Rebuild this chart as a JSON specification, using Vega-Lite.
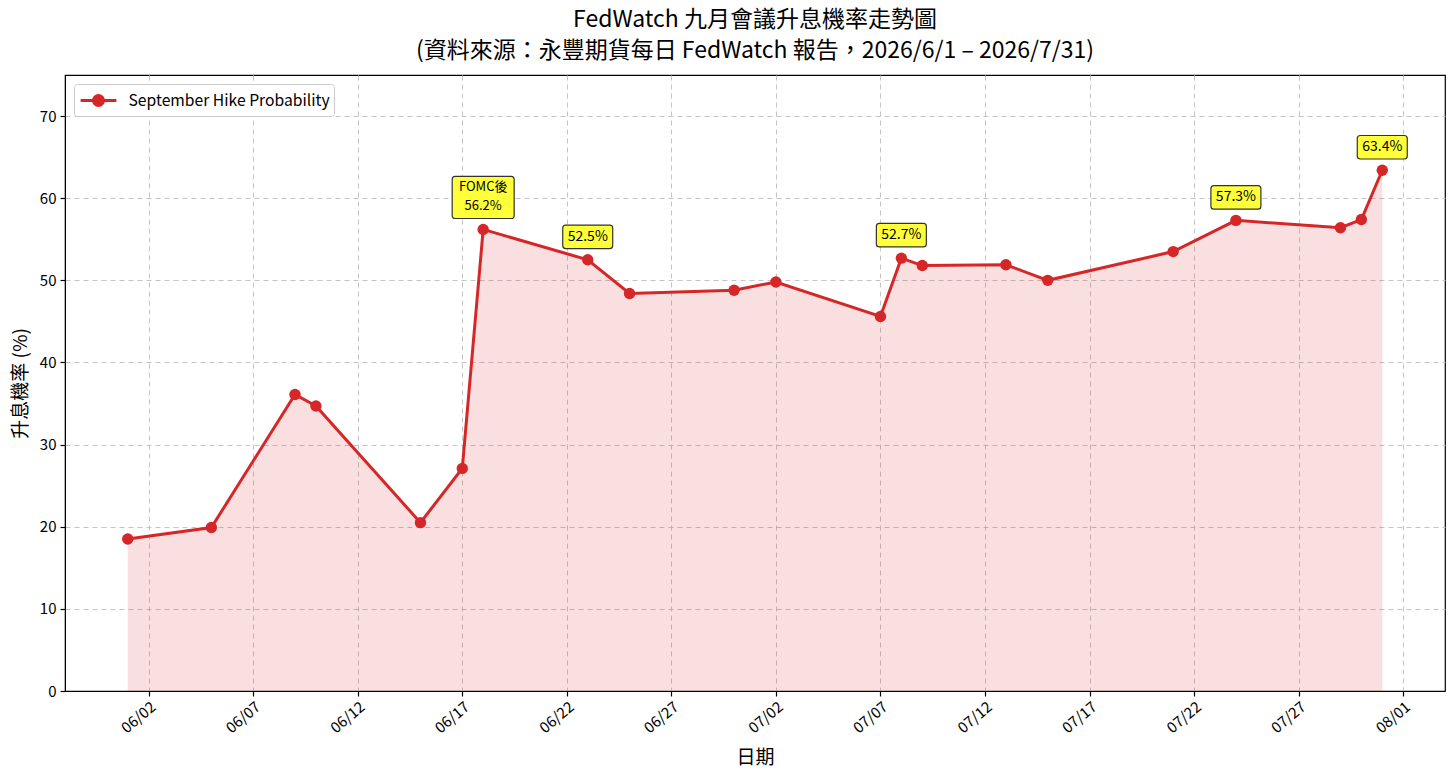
{
  "$schema": "https://vega.github.io/schema/vega-lite/v6.json",
  "autosize": {"type": "none"},
  "width": 1380,
  "height": 616,
  "padding": {"left": 65, "top": 75, "right": 11, "bottom": 87},
  "background": "white",
  "title": {
    "text": ["FedWatch 九月會議升息機率走勢圖", "(資料來源：永豐期貨每日 FedWatch 報告，2026/6/1 – 2026/7/31)"],
    "font": "Noto Sans CJK TC",
    "fontSize": 23,
    "fontWeight": "normal",
    "color": "#000000",
    "lineHeight": 31,
    "anchor": "middle",
    "offset": 12
  },
  "config": {
    "font": "Noto Sans CJK TC",
    "view": {"stroke": "#000000", "strokeWidth": 1.2},
    "axis": {
      "labelFont": "Noto Sans CJK TC",
      "titleFont": "Noto Sans CJK TC",
      "labelFontSize": 15,
      "titleFontSize": 19,
      "titleFontWeight": "normal",
      "labelColor": "#000000",
      "titleColor": "#000000",
      "domainColor": "#000000",
      "tickColor": "#000000",
      "tickSize": 5,
      "tickWidth": 1.2,
      "gridColor": "#c4c4c4",
      "gridDash": [5, 4],
      "gridWidth": 1
    }
  },
  "data": {
    "values": [
      {"date": "2026-06-01", "prob": 18.5, "label": null},
      {"date": "2026-06-05", "prob": 19.9, "label": null},
      {"date": "2026-06-09", "prob": 36.1, "label": null},
      {"date": "2026-06-10", "prob": 34.7, "label": null},
      {"date": "2026-06-15", "prob": 20.5, "label": null},
      {"date": "2026-06-17", "prob": 27.1, "label": null},
      {"date": "2026-06-18", "prob": 56.2, "label": "FOMC後\n56.2%"},
      {"date": "2026-06-23", "prob": 52.5, "label": "52.5%"},
      {"date": "2026-06-25", "prob": 48.4, "label": null},
      {"date": "2026-06-30", "prob": 48.8, "label": null},
      {"date": "2026-07-02", "prob": 49.8, "label": null},
      {"date": "2026-07-07", "prob": 45.6, "label": null},
      {"date": "2026-07-08", "prob": 52.7, "label": "52.7%"},
      {"date": "2026-07-09", "prob": 51.8, "label": null},
      {"date": "2026-07-13", "prob": 51.9, "label": null},
      {"date": "2026-07-15", "prob": 50.0, "label": null},
      {"date": "2026-07-21", "prob": 53.5, "label": null},
      {"date": "2026-07-24", "prob": 57.3, "label": "57.3%"},
      {"date": "2026-07-29", "prob": 56.4, "label": null},
      {"date": "2026-07-30", "prob": 57.4, "label": null},
      {"date": "2026-07-31", "prob": 63.4, "label": "63.4%"}
    ]
  },
  "encoding": {
    "x": {
      "field": "date",
      "type": "temporal",
      "scale": {"type": "utc", "domain": [{"year": 2026, "month": 5, "date": 29, "utc": true}, {"year": 2026, "month": 8, "date": 3, "utc": true}]},
      "axis": {
        "title": "日期",
        "labelExpr": "utcFormat(datum.value, '%m/%d')",
        "values": [
          {"year": 2026, "month": 6, "date": 2, "utc": true},
          {"year": 2026, "month": 6, "date": 7, "utc": true},
          {"year": 2026, "month": 6, "date": 12, "utc": true},
          {"year": 2026, "month": 6, "date": 17, "utc": true},
          {"year": 2026, "month": 6, "date": 22, "utc": true},
          {"year": 2026, "month": 6, "date": 27, "utc": true},
          {"year": 2026, "month": 7, "date": 2, "utc": true},
          {"year": 2026, "month": 7, "date": 7, "utc": true},
          {"year": 2026, "month": 7, "date": 12, "utc": true},
          {"year": 2026, "month": 7, "date": 17, "utc": true},
          {"year": 2026, "month": 7, "date": 22, "utc": true},
          {"year": 2026, "month": 7, "date": 27, "utc": true},
          {"year": 2026, "month": 8, "date": 1, "utc": true}
        ],
        "labelAngle": -40,
        "labelAlign": "right",
        "labelBaseline": "top",
        "labelPadding": 3,
        "titlePadding": 13
      }
    },
    "y": {
      "field": "prob",
      "type": "quantitative",
      "scale": {"domain": [0, 75], "nice": false},
      "axis": {
        "title": "升息機率 (%)",
        "values": [0, 10, 20, 30, 40, 50, 60, 70],
        "labelPadding": 4,
        "titlePadding": 9
      }
    }
  },
  "layer": [
    {
      "mark": {"type": "area", "color": "#d62728", "opacity": 0.15}
    },
    {
      "mark": {"type": "line", "strokeWidth": 3, "point": {"filled": true, "size": 130}},
      "encoding": {
        "color": {
          "datum": "September Hike Probability",
          "scale": {"range": ["#d62728"]},
          "legend": {
            "title": null,
            "orient": "top-left",
            "offset": 8.5,
            "labelFontSize": 15.7,
            "labelFont": "Noto Sans CJK TC",
            "labelColor": "#000000",
            "labelLimit": 500,
            "labelOffset": 17,
            "symbolOffset": 8,
            "symbolType": "M-1.6,0 L1.6,0 M-0.45,0 A0.45,0.45 0 1,1 0.45,0 A0.45,0.45 0 1,1 -0.45,0 Z",
            "symbolSize": 500,
            "symbolStrokeWidth": 3,
            "symbolFillColor": "#d62728",
            "symbolStrokeColor": "#d62728",
            "fillColor": "white",
            "strokeColor": "#cccccc",
            "cornerRadius": 3,
            "padding": 3.5
          }
        }
      }
    },
    {
      "transform": [{"filter": "datum.label != null && indexof(datum.label, '\\n') < 0"}],
      "mark": {
        "type": "point",
        "shape": "M-0.88,-0.47 L0.88,-0.47 Q1,-0.47 1,-0.35 L1,0.35 Q1,0.47 0.88,0.47 L-0.88,0.47 Q-1,0.47 -1,0.35 L-1,-0.35 Q-1,-0.47 -0.88,-0.47 Z",
        "size": 2500,
        "filled": true,
        "fill": "#ffff3a",
        "stroke": "#333333",
        "strokeWidth": 1.2,
        "opacity": 1,
        "yOffset": -23
      }
    },
    {
      "transform": [{"filter": "datum.label != null && indexof(datum.label, '\\n') >= 0"}],
      "mark": {
        "type": "point",
        "shape": "M-0.9,-0.68 L0.9,-0.68 Q1,-0.68 1,-0.58 L1,0.58 Q1,0.68 0.9,0.68 L-0.9,0.68 Q-1,0.68 -1,0.58 L-1,-0.58 Q-1,-0.68 -0.9,-0.68 Z",
        "size": 3844,
        "filled": true,
        "fill": "#ffff3a",
        "stroke": "#333333",
        "strokeWidth": 1.2,
        "opacity": 1,
        "yOffset": -32
      }
    },
    {
      "transform": [{"filter": "datum.label != null && indexof(datum.label, '\\n') < 0"}],
      "mark": {
        "type": "text",
        "font": "Noto Sans CJK TC",
        "fontSize": 14,
        "color": "#000000",
        "baseline": "middle",
        "align": "center",
        "yOffset": -23
      },
      "encoding": {"text": {"field": "label"}}
    },
    {
      "transform": [{"filter": "datum.label != null && indexof(datum.label, '\\n') >= 0"}],
      "mark": {
        "type": "text",
        "font": "Noto Sans CJK TC",
        "fontSize": 13,
        "color": "#000000",
        "baseline": "top",
        "align": "center",
        "lineBreak": "\n",
        "lineHeight": 19,
        "yOffset": -48
      },
      "encoding": {"text": {"field": "label"}}
    }
  ]
}
